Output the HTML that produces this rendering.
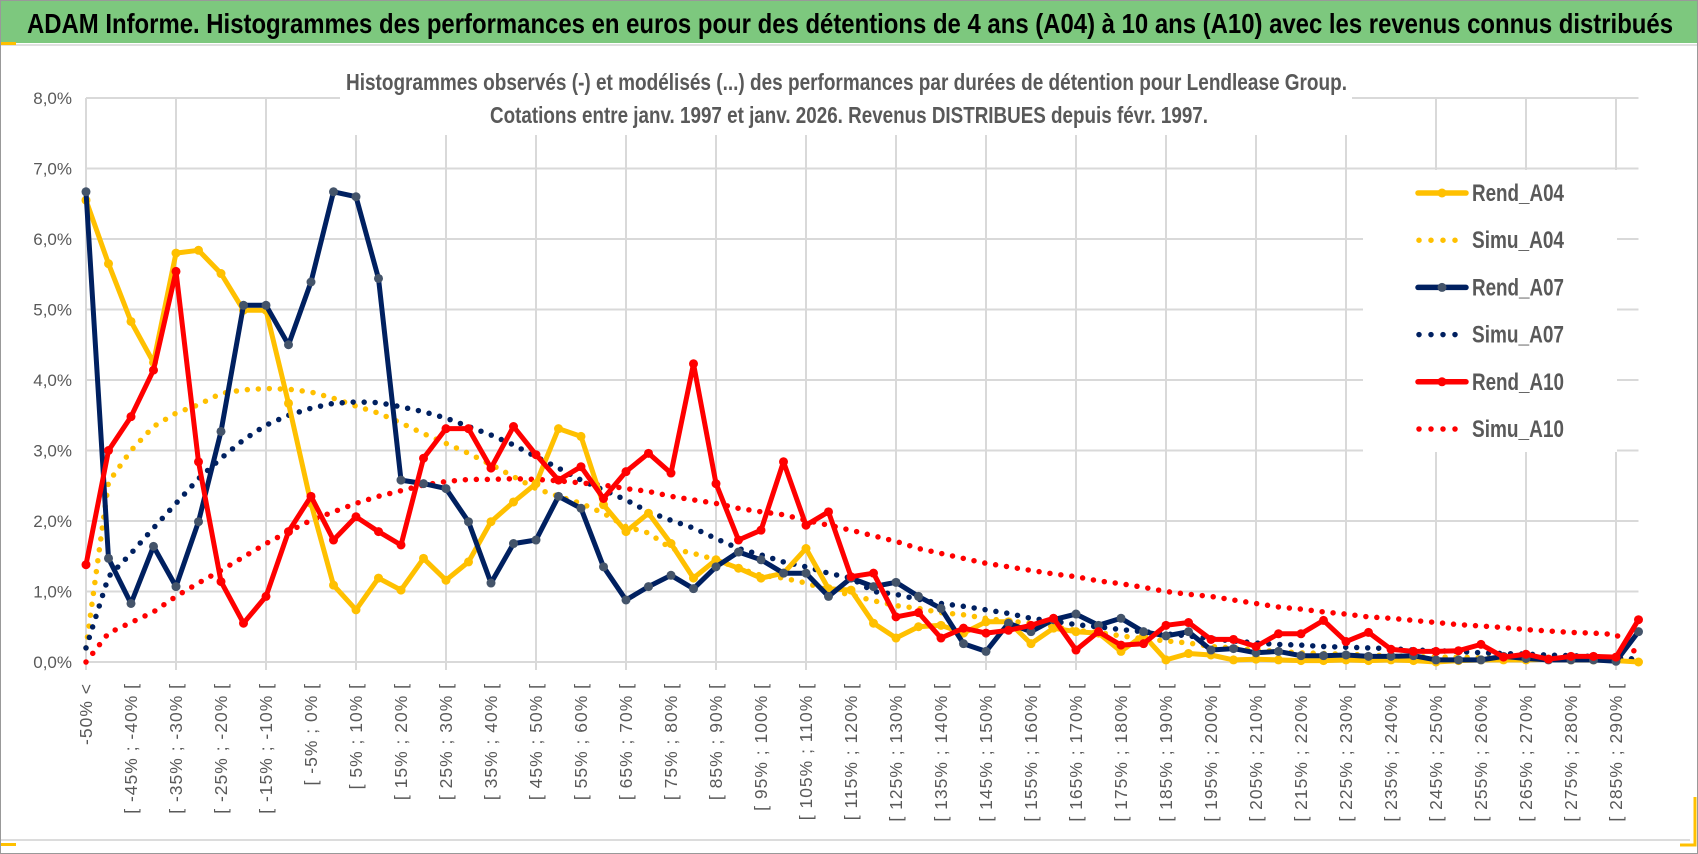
<!DOCTYPE html>
<html><head><meta charset="utf-8">
<style>
html,body{margin:0;padding:0;background:#fff;}
svg{display:block;font-family:"Liberation Sans",sans-serif;}
</style></head>
<body>
<svg id="chart" width="1698" height="854" viewBox="0 0 1698 854" xmlns="http://www.w3.org/2000/svg">
  <rect x="0" y="0" width="1698" height="854" fill="#fff"/>
  <rect x="0" y="0" width="1698" height="43" fill="#7dc87e"/>
  <rect x="0" y="44" width="1698" height="2" fill="#e0e0e0"/>
  <rect x="0" y="42" width="16" height="3" fill="#ffc000"/>
  <text x="27" y="33" font-size="28" font-weight="bold" fill="#000" textLength="1646" lengthAdjust="spacingAndGlyphs">ADAM Informe. Histogrammes des performances en euros pour des détentions de 4 ans (A04) à 10 ans (A10) avec les revenus connus distribués</text>
  <g id="grid"></g>
  <rect x="340" y="52" width="1012" height="83" fill="#fff"/>
  <text x="346" y="90" font-size="23" font-weight="bold" fill="#595959" textLength="1001" lengthAdjust="spacingAndGlyphs">Histogrammes observés (-) et modélisés (...) des performances par durées de détention pour Lendlease Group.</text>
  <text x="490" y="123" font-size="23" font-weight="bold" fill="#595959" textLength="718" lengthAdjust="spacingAndGlyphs">Cotations entre janv. 1997 et janv. 2026. Revenus DISTRIBUES depuis févr. 1997.</text>
  <rect x="1363" y="170" width="254" height="282" fill="#fff"/>
  <g id="yaxis"></g>
  <g id="xaxis"></g>
  <g id="series"></g>
  <g id="legend"></g>
  <line x1="0" y1="840" x2="1690" y2="840" stroke="#dcdcdc" stroke-width="2"/>
  <rect x="0" y="843" width="16" height="3" fill="#ffc000"/>
  <path d="M1680 845 H1695 V797" fill="none" stroke="#ffc000" stroke-width="3"/>
  <rect x="0.5" y="0.5" width="1697" height="853" fill="none" stroke="#999" stroke-width="1"/>
</svg>
<script>
const yTicks = [0,1,2,3,4,5,6,7,8];
const yTickLabels = ["0,0%","1,0%","2,0%","3,0%","4,0%","5,0%","6,0%","7,0%","8,0%"];
const rendA04 = [6.55,5.65,4.83,4.25,5.8,5.84,5.51,4.99,4.99,3.67,2.25,1.09,0.74,1.19,1.02,1.47,1.16,1.42,1.99,2.27,2.53,3.31,3.2,2.23,1.85,2.11,1.68,1.19,1.45,1.33,1.19,1.26,1.61,1.04,1.02,0.55,0.34,0.5,0.52,0.41,0.57,0.57,0.26,0.48,0.43,0.41,0.15,0.38,0.03,0.12,0.1,0.03,0.04,0.03,0.02,0.02,0.03,0.02,0.03,0.02,0.0,0.02,0.03,0.03,0.03,0.04,0.03,0.03,0.02,0.0];
const simuA04 = [0.2,2.55,3.0,3.34,3.53,3.65,3.81,3.86,3.88,3.87,3.83,3.74,3.63,3.53,3.39,3.24,3.1,2.96,2.8,2.63,2.46,2.35,2.25,2.11,1.92,1.83,1.61,1.54,1.45,1.33,1.23,1.19,1.12,1.02,0.95,0.87,0.8,0.76,0.7,0.67,0.62,0.58,0.55,0.5,0.45,0.42,0.37,0.33,0.3,0.27,0.22,0.2,0.17,0.15,0.13,0.12,0.11,0.1,0.09,0.08,0.07,0.07,0.06,0.06,0.05,0.05,0.04,0.04,0.04,0.03];
const rendA07 = [6.67,1.47,0.83,1.64,1.07,1.99,3.27,5.06,5.06,4.5,5.39,6.67,6.6,5.44,2.58,2.53,2.46,1.99,1.12,1.68,1.73,2.35,2.18,1.35,0.88,1.07,1.23,1.04,1.35,1.56,1.45,1.26,1.26,0.93,1.19,1.07,1.13,0.93,0.76,0.26,0.15,0.55,0.43,0.6,0.68,0.52,0.62,0.43,0.37,0.43,0.17,0.19,0.13,0.15,0.09,0.09,0.1,0.08,0.08,0.09,0.03,0.03,0.03,0.08,0.05,0.03,0.03,0.03,0.01,0.43];
const simuA07 = [0.2,1.21,1.54,1.9,2.25,2.6,2.89,3.15,3.36,3.5,3.6,3.67,3.69,3.68,3.62,3.55,3.46,3.34,3.22,3.08,2.91,2.75,2.58,2.44,2.3,2.13,2.01,1.9,1.75,1.61,1.52,1.42,1.35,1.26,1.19,1.0,0.96,0.89,0.83,0.79,0.74,0.69,0.62,0.58,0.53,0.5,0.46,0.43,0.4,0.37,0.33,0.3,0.27,0.25,0.24,0.22,0.21,0.2,0.19,0.17,0.16,0.15,0.13,0.12,0.11,0.1,0.09,0.08,0.06,0.04];
const rendA10 = [1.38,3.0,3.48,4.14,5.54,2.84,1.14,0.55,0.93,1.85,2.35,1.73,2.06,1.85,1.66,2.89,3.31,3.31,2.75,3.34,2.94,2.58,2.77,2.32,2.7,2.96,2.68,4.23,2.53,1.73,1.87,2.84,1.94,2.13,1.21,1.26,0.64,0.7,0.34,0.48,0.41,0.45,0.52,0.62,0.17,0.43,0.24,0.26,0.52,0.56,0.32,0.32,0.22,0.4,0.4,0.59,0.29,0.42,0.18,0.15,0.15,0.16,0.25,0.07,0.11,0.04,0.08,0.08,0.07,0.6];
const simuA10 = [0.0,0.41,0.56,0.71,0.93,1.12,1.3,1.49,1.68,1.85,2.01,2.13,2.25,2.35,2.43,2.51,2.56,2.59,2.59,2.6,2.59,2.57,2.54,2.51,2.46,2.42,2.35,2.3,2.25,2.18,2.13,2.09,2.01,1.94,1.87,1.79,1.71,1.61,1.54,1.47,1.4,1.35,1.3,1.25,1.21,1.15,1.11,1.06,1.0,0.96,0.93,0.88,0.83,0.78,0.75,0.71,0.68,0.64,0.62,0.59,0.56,0.53,0.51,0.49,0.46,0.44,0.42,0.41,0.39,0.1];
const seriesNames = ["Rend_A04","Simu_A04","Rend_A07","Simu_A07","Rend_A10","Simu_A10"];

const NS = "http://www.w3.org/2000/svg";
const X0 = 86, DX = 22.5, Y0 = 662, DY = 70.5;
function xScale(i){ return X0 + i*DX; }
function yScale(v){ return Y0 - v*DY; }
function mk(tag, attrs, parent){ const e=document.createElementNS(NS,tag); for(const k in attrs) e.setAttribute(k,attrs[k]); parent.appendChild(e); return e; }
const N = rendA04.length;
function catLabel(i){
  if(i===0) return "-50% <";
  const lo = -55 + 5*i, hi = lo + 5;
  return "[ " + lo + "% ; " + hi + "% [";
}

const grid = document.getElementById('grid');
yTicks.forEach((t)=>{
  const l = mk('line',{x1:X0,x2:X0+(N-1)*DX,y1:yScale(t),y2:yScale(t),stroke:'#d9d9d9','stroke-width':2},grid);
  
  
});
for(let i=0;i<N;i+=4){
  const l = mk('line',{x1:xScale(i),x2:xScale(i),y1:yScale(8),y2:Y0+8,stroke:'#d9d9d9','stroke-width':2},grid);
  
  
}

const yaxis = document.getElementById('yaxis');
yTicks.forEach((t,k)=>{
  const tx = mk('text',{x:72,y:yScale(t)+6,'text-anchor':'end','font-size':17,fill:'#595959'},yaxis);
  tx.textContent = yTickLabels[k];
  
  
});

const xaxis = document.getElementById('xaxis');
for(let i=0;i<N;i+=2){
  const x = xScale(i)+6, y = 683;
  const tx = mk('text',{x:x,y:y,'text-anchor':'end','font-size':17.5,'letter-spacing':'1',fill:'#595959',transform:'rotate(-90 '+x+' '+y+')'},xaxis);
  tx.textContent = catLabel(i);
  
  
}

const series = document.getElementById('series');
function pts(arr){ return arr.map((v,i)=>xScale(i).toFixed(1)+','+yScale(v).toFixed(1)).join(' '); }
function dotted(arr,color,name){
  const p = mk('polyline',{points:pts(arr),fill:'none',stroke:color,'stroke-width':5.5,'stroke-linecap':'round','stroke-dasharray':'0 11'},series);
  
  
}
function solid(arr,color,mcolor,name){
  const g = mk('g',{},series);
  
  
  const p = mk('polyline',{points:pts(arr),fill:'none',stroke:color,'stroke-width':5,'stroke-linejoin':'round'},g);
  
  
  arr.forEach((v,i)=>{
    const c = mk('circle',{cx:xScale(i),cy:yScale(v),r:4.5,fill:mcolor},g);
    
    
  });
}
dotted(simuA04,'#ffc000','simu-a04-line');
dotted(simuA07,'#002060','simu-a07-line');
dotted(simuA10,'#ff0000','simu-a10-line');
solid(rendA04,'#ffc000','#ffc000','rend-a04-series');
solid(rendA07,'#002060','#44546a','rend-a07-series');
solid(rendA10,'#ff0000','#ff0000','rend-a10-series');

const legend = document.getElementById('legend');
const legColors = ['#ffc000','#ffc000','#002060','#002060','#ff0000','#ff0000'];
const legMarker = ['#ffc000',null,'#44546a',null,'#ff0000',null];
seriesNames.forEach((nm,k)=>{
  const cy = 193 + k*47.2;
  const g = mk('g',{},legend);
  
  
  if(legMarker[k]){
    mk('line',{x1:1418,x2:1466,y1:cy,y2:cy,stroke:legColors[k],'stroke-width':5.5,'stroke-linecap':'round'},g);
    mk('circle',{cx:1442,cy:cy,r:4.5,fill:legMarker[k]},g);
  } else {
    mk('line',{x1:1419,x2:1467,y1:cy,y2:cy,stroke:legColors[k],'stroke-width':5.5,'stroke-linecap':'round','stroke-dasharray':'0 12'},g);
  }
  const t = mk('text',{x:1472,y:cy+8,'font-size':24,'font-weight':'bold',fill:'#595959',textLength:92,lengthAdjust:'spacingAndGlyphs'},g);
  t.textContent = nm;
});
</script>
</body></html>
